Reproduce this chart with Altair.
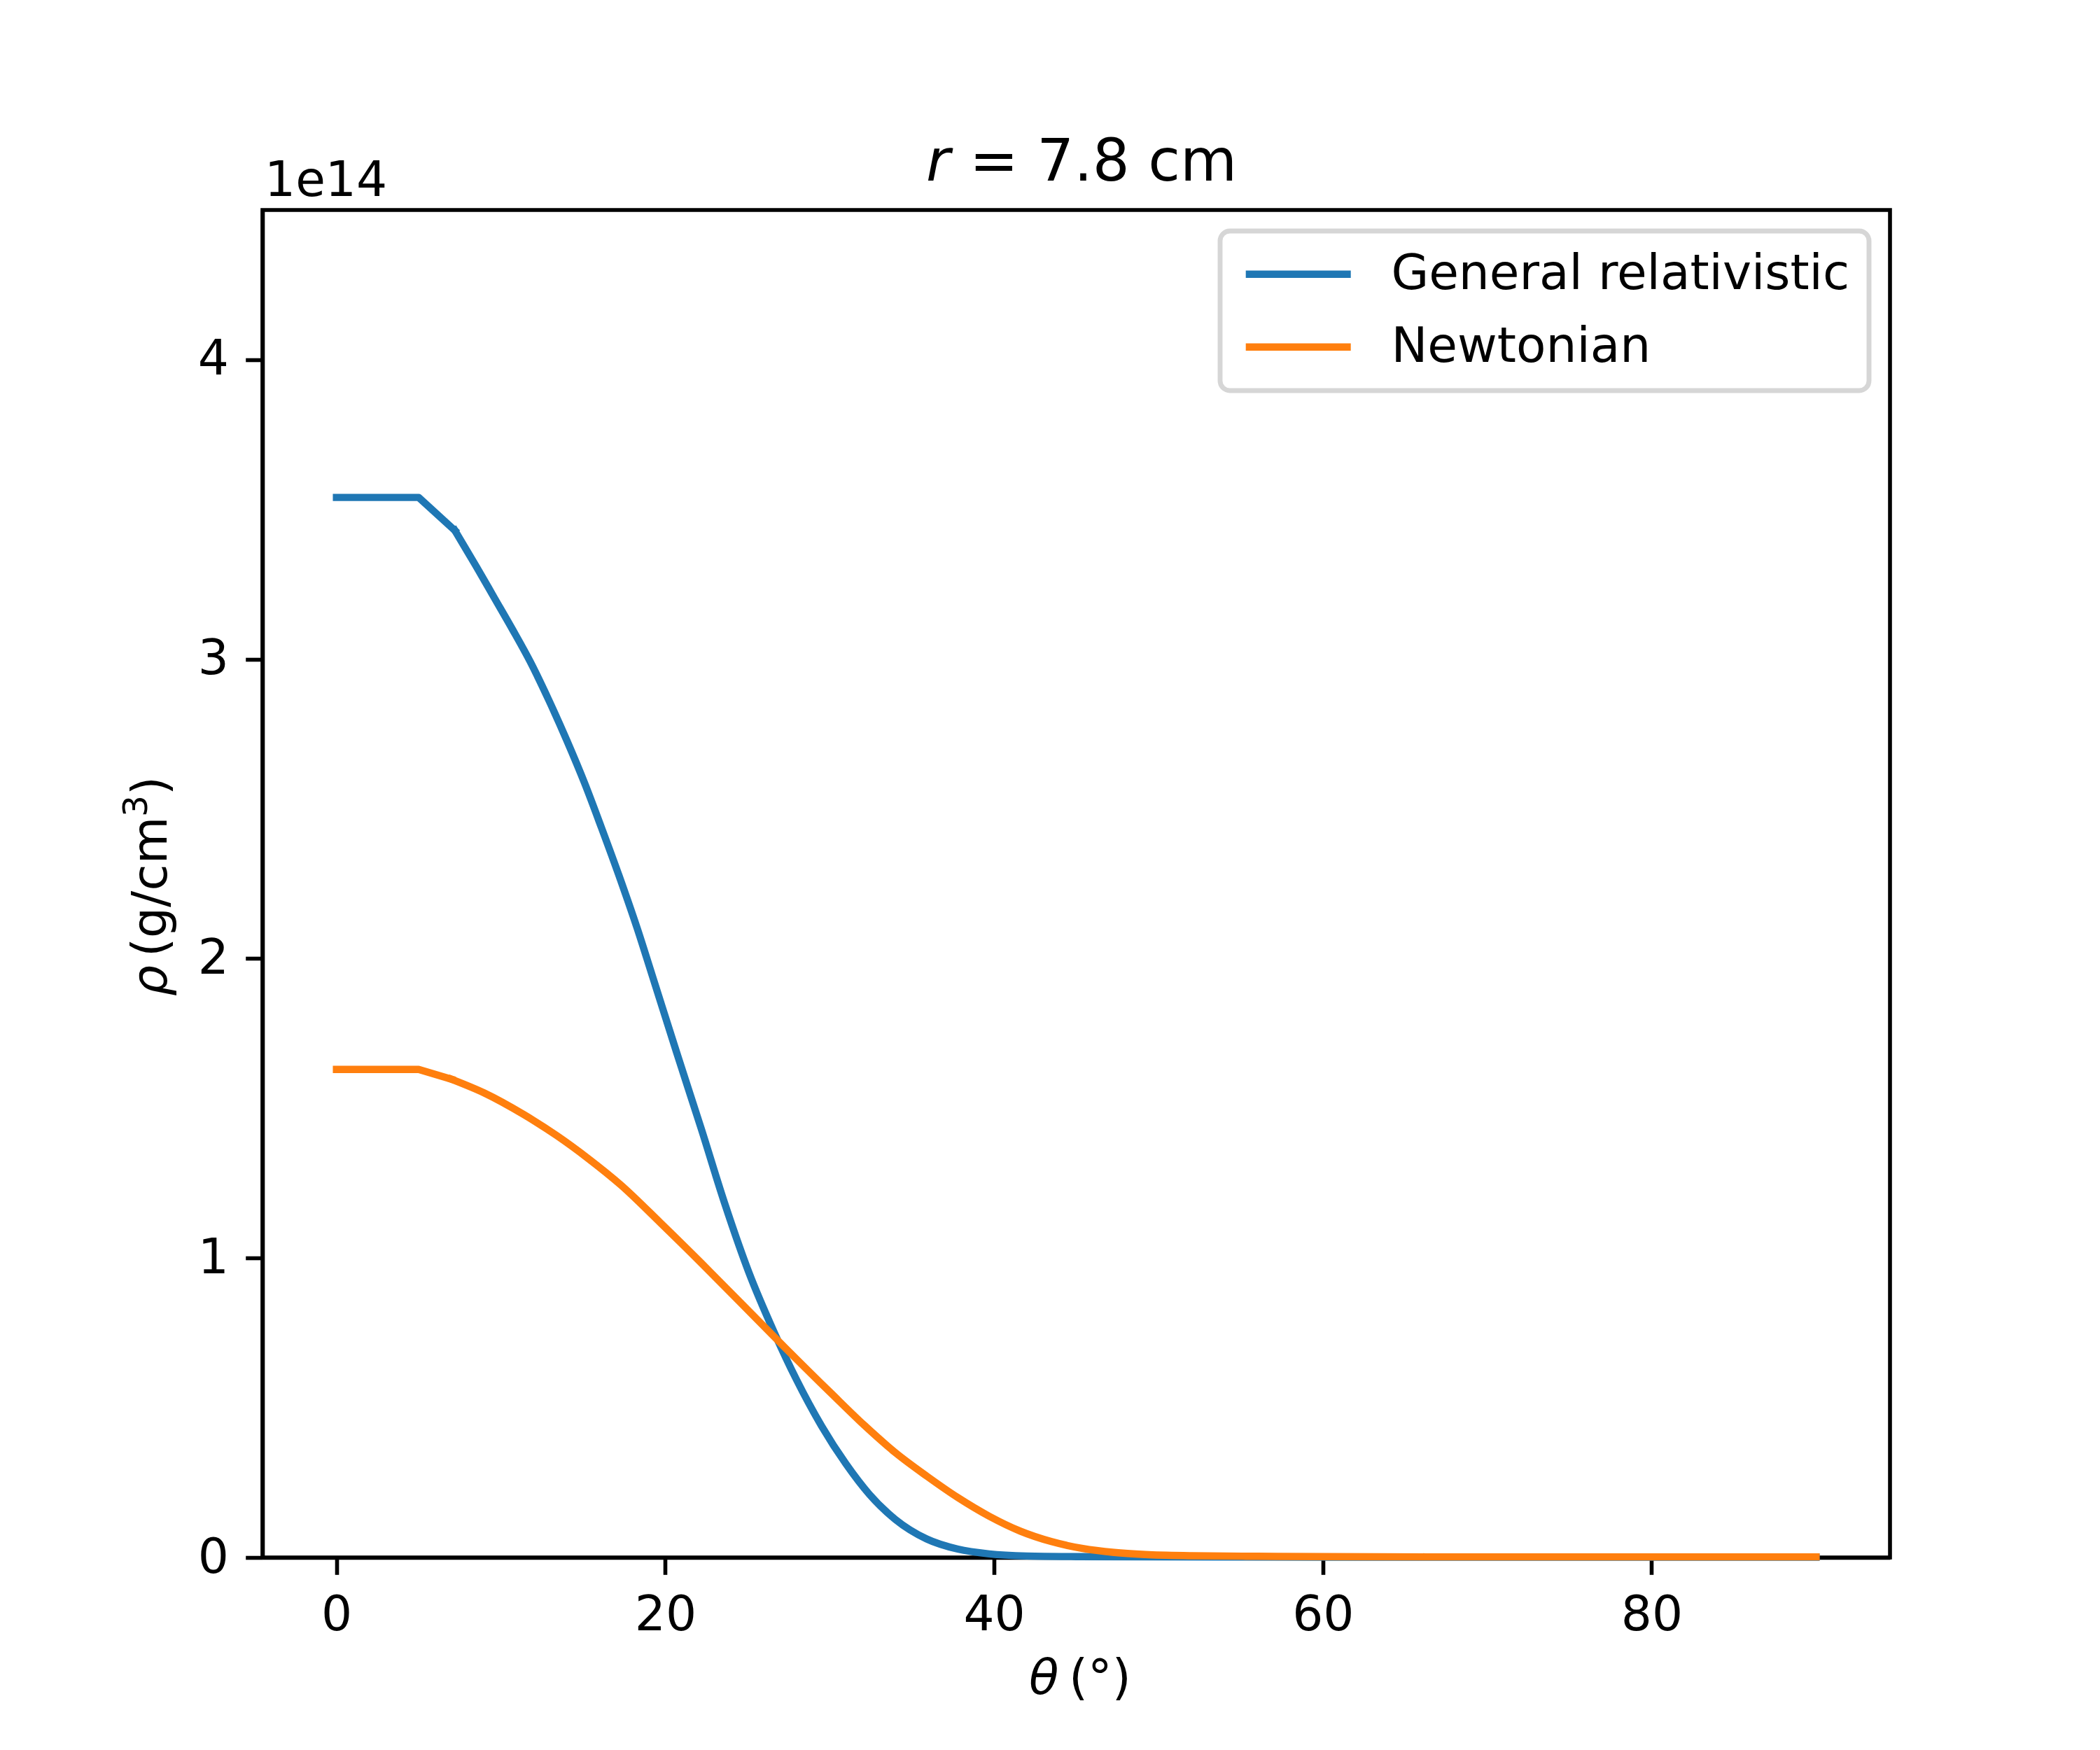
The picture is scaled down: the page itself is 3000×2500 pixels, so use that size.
import altair as alt
import pandas as pd

# ---- data (density in units of 1e14 g/cm^3) ----
theta_gr = [0, 5, 7.2, 8.5, 9.6, 10.7, 11.8, 12.9, 14, 15.1, 16.1, 17.2, 18.3,
            19.2, 20.7, 22.2, 23.6, 25.1, 26.6, 28, 29.5, 31, 32.4, 34, 35.9,
            37.8, 39.7, 42, 45, 50, 60, 70, 80, 90]
rho_gr = [3.54, 3.54, 3.43, 3.31, 3.205, 3.10, 2.99, 2.865, 2.73, 2.585, 2.44,
          2.275, 2.10, 1.945, 1.685, 1.43, 1.185, 0.95, 0.755, 0.592, 0.44,
          0.312, 0.212, 0.127, 0.062, 0.028, 0.012, 0.005, 0.003, 0.002,
          0.001, 0.001, 0.001, 0.001]
theta_newt = [0, 5, 7, 9, 11.4, 13.4, 15.3, 17.3, 19.7, 22.2, 24.6, 27.3, 30.1,
              32.1, 34, 35.9, 37.8, 39.7, 41.6, 43.5, 45.4, 47.3, 49.2, 52, 56,
              60, 70, 80, 90]
rho_newt = [1.63, 1.63, 1.597, 1.551, 1.479, 1.409, 1.333, 1.244, 1.118, 0.983,
            0.85, 0.70, 0.548, 0.442, 0.35, 0.272, 0.20, 0.138, 0.088, 0.053,
            0.03, 0.017, 0.01, 0.006, 0.004, 0.003, 0.002, 0.002, 0.002]
series = ["General relativistic", "Newtonian"]
colors = ["#1f77b4", "#ff7f0e"]
x_ticks = [0, 20, 40, 60, 80]
y_ticks = [0, 1, 2, 3, 4]

rows = []
for t, g in zip(theta_gr, rho_gr):
    rows.append({"theta": t, "rho": g, "model": series[0]})
for t, n in zip(theta_newt, rho_newt):
    rows.append({"theta": t, "rho": n, "model": series[1]})
df = pd.DataFrame(rows)

FONT = "DejaVu Sans"
FS = 69.4          # 10pt at 500 dpi
W, H = 2325, 1925  # plot area

enc = dict(
    x=alt.X("theta:Q",
            scale=alt.Scale(domain=[-4.5, 94.5], nice=False, zero=False),
            axis=alt.Axis(values=x_ticks, title=None, grid=False,
                          labelBaseline="top", labelAlign="center")),
    y=alt.Y("rho:Q",
            scale=alt.Scale(domain=[0, 4.5], nice=False),
            axis=alt.Axis(values=y_ticks, title=None, grid=False,
                          labelAlign="right", labelBaseline="middle")),
    color=alt.Color("model:N",
                    scale=alt.Scale(domain=series, range=colors),
                    legend=alt.Legend(title=None, orient="top-right", offset=30,
                                      symbolType="M-1,0L5,0", symbolSize=2500,
                                      symbolStrokeWidth=10.4,
                                      labelOffset=148, labelLimit=3000)),
    order=alt.Order("theta:Q"),
)

# flat core (first three samples of each series) drawn straight,
# the remaining samples drawn as a smooth curve; both share the 3rd sample
base = alt.Chart(df)
core = base.transform_filter(alt.datum.theta <= 7.2).mark_line(
    strokeWidth=10.4, strokeCap="square", strokeJoin="round").encode(**enc)
tail = base.transform_filter(alt.datum.theta >= 7).mark_line(
    strokeWidth=10.4, strokeCap="square", strokeJoin="round",
    interpolate="monotone").encode(**enc)

def txt(s, x, y, size=FS, style="normal", angle=0, align="left"):
    d = pd.DataFrame({"s": [s]})
    return alt.Chart(d).mark_text(font=FONT, fontSize=size, fontStyle=style,
                                  angle=angle, align=align,
                                  baseline="alphabetic", color="black").encode(
        x=alt.value(x), y=alt.value(y), text="s:N")

title_r = txt("r", 948, -42, size=83.3, style="italic")
title_rest = txt("= 7.8 cm", 1010, -42, size=83.3)
offset_txt = txt("1e14", 3, -20)
xlab_theta = txt("θ", 1095, 2120, style="italic")
xlab_rest = txt("(°)", 1152, 2120)
ylab_rho = txt("ρ", -137, 1123, style="italic", angle=270)
ylab_rest = txt("(g/cm", -137, 1067, angle=270)
ylab_sup = txt("3", -165, 867, size=48.6, angle=270)
ylab_close = txt(")", -137, 836, angle=270)

chart = alt.layer(core, tail, title_r, title_rest, offset_txt, xlab_theta,
                  xlab_rest, ylab_rho, ylab_rest, ylab_sup, ylab_close).properties(
    width=W, height=H,
    autosize=alt.AutoSizeParams(type="none"),
    padding={"left": 367, "top": 292, "right": 292, "bottom": 267},
    background="white",
).configure_view(
    stroke="black", strokeWidth=5.6
).configure_axis(
    domain=True, domainColor="black", domainWidth=5.6,
    ticks=True, tickColor="black", tickWidth=5.6, tickSize=24.3,
    labelFont=FONT, labelFontSize=FS, labelColor="black", labelPadding=24.3,
    zindex=1,
).configure_legend(
    labelFont=FONT, labelFontSize=FS, labelColor="black",
    padding=27, rowPadding=33,
    strokeColor="#d6d6d6", fillColor="white", cornerRadius=14, strokeWidth=6.9,
)

chart.save("out.html", embed_options={"renderer": "svg", "actions": False})
